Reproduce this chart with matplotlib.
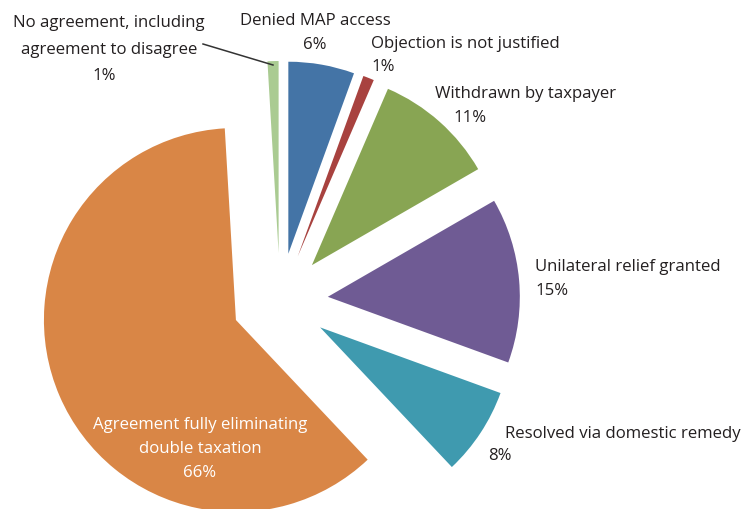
import matplotlib.pyplot as plt

# MAP case outcomes (shares as labelled in the chart)
categories = [
    "Denied MAP access",
    "Objection is not justified",
    "Withdrawn by taxpayer",
    "Unilateral relief granted",
    "Resolved via domestic remedy",
    "Agreement fully eliminating\ndouble taxation",
    "No agreement, including\nagreement to disagree",
]
values = [6, 1, 11, 15, 8, 66, 1]
colors = ["#4474A6", "#A8423F", "#88A553", "#6F5B94", "#3F9AAF", "#D98646", "#AACB92"]

W, H = 744, 510
SCALE = 192.0           # pixels per pie radius
CX, CY = 280, 302       # pie centre in pixels (from top-left)

# label placement: (x px, first baseline px, line step px, alignment, text colour)
label_pos = [
    (315, 25, 24, "center", "#231F20"),
    (371, 48, 23, "left", "#231F20"),
    (435, 98, 24, "left", "#231F20"),
    (535, 271, 24, "left", "#231F20"),
    (505, 438, 22, "left", "#231F20"),
    (200, 429, 24, "center", "white"),
    (109, 27, 26.5, "center", "#231F20"),
]

fig = plt.figure(figsize=(W / 100, H / 100), dpi=100)
ax = fig.add_axes([0, 0, 1, 1])

ax.pie(values, colors=colors, startangle=90, counterclock=False,
       explode=[0.25] * len(values), radius=1.0,
       wedgeprops=dict(linewidth=0))
ax.set_aspect("auto")
ax.set_xlim(-CX / SCALE, (W - CX) / SCALE)
ax.set_ylim(-(H - CY) / SCALE, CY / SCALE)
ax.axis("off")


def px(x, y):
    return x / W, 1 - y / H


font = dict(family="Open Sans", fontsize=12.1)
for name, val, (x, y0, step, ha, col) in zip(categories, values, label_pos):
    lines = name.split("\n") + [f"{val}%"]
    for i, line in enumerate(lines):
        xx = x
        # a few percentage lines sit off the label's alignment in the original
        if i == len(lines) - 1 and name.startswith("Withdrawn"):
            xx = 453
        if i == len(lines) - 1 and name.startswith("Resolved"):
            xx = 488
        if i == len(lines) - 1 and name.startswith("No agreement"):
            xx = 104
        fig.text(*px(xx, y0 + i * step), line, ha=ha, va="baseline",
                 color=col, **font)

# leader line for the small "No agreement" slice
fig.add_artist(plt.Line2D([203 / W, 273 / W], [1 - 45 / H, 1 - 66 / H],
                          color="#333333", linewidth=1.1))

fig.savefig("out.png", dpi=100)
